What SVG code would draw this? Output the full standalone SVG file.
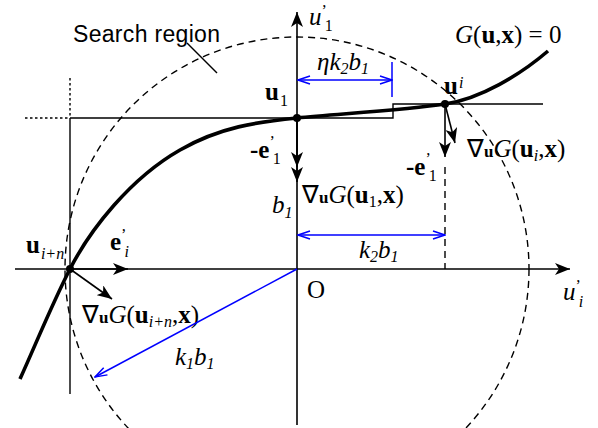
<svg xmlns="http://www.w3.org/2000/svg" width="598" height="428" viewBox="0 0 598 428">
<style>
.ax{stroke:#000;stroke-width:1.6;fill:none}
.thin{stroke:#000;stroke-width:1.4;fill:none}
.dot{stroke:#000;stroke-width:1.4;fill:none;stroke-dasharray:2.5 2.5}
.dash{stroke:#000;stroke-width:1.4;fill:none;stroke-dasharray:7 5}
.blue{stroke:#0000ff;stroke-width:1.5;fill:none}
.curve{stroke:#000;stroke-width:3.6;fill:none}
.m{font-family:"Liberation Serif","Times New Roman",serif;font-size:25px;fill:#000}
.i{font-style:italic}
.b{font-weight:bold}
.s{font-size:16px}
.n{font-style:normal;font-weight:normal}
.ni{font-style:italic;font-weight:normal}
.sans{font-family:"Liberation Sans",Arial,sans-serif;font-size:23px;fill:#000}
</style>
<defs>
<marker id="ah" markerWidth="16" markerHeight="12" refX="15" refY="6" orient="auto" markerUnits="userSpaceOnUse"><path d="M0,0 L15,6 L0,12 L4,6 z" fill="#000"/></marker>
<marker id="bh" markerWidth="14" markerHeight="10" refX="13" refY="5" orient="auto-start-reverse" markerUnits="userSpaceOnUse"><path d="M1,1 L13,5 L1,9" fill="none" stroke="#0000ff" stroke-width="1.5"/></marker>
</defs>
<g id="search-region">
<circle cx="297" cy="269" r="232" class="dash"/>
<line x1="187" y1="43" x2="217" y2="73" class="thin"/>
<text x="73" y="42" class="sans" textLength="147">Search region</text>
</g>
<g id="guides">
<line x1="25" y1="118" x2="70" y2="118" class="dot"/>
<line x1="70" y1="78" x2="70" y2="118" class="dot"/>
<line x1="70" y1="118" x2="70" y2="394" class="thin"/>
<path d="M70,118 H393 V104 H543" class="thin"/>
<line x1="445" y1="167" x2="445" y2="269" class="dash"/>
</g>
<g id="axes">
<line x1="297" y1="425" x2="297" y2="12" class="ax" marker-end="url(#ah)"/>
<line x1="15" y1="269" x2="570" y2="269" class="ax" marker-end="url(#ah)"/>
<text x="309" y="25" class="m i" font-size="24">u<tspan class="s n" dy="-9">’</tspan><tspan class="s n" dx="-2" dy="15">1</tspan></text>
<text x="563" y="300" class="m i" font-size="24">u<tspan class="s n" dy="-9">’</tspan><tspan class="s" dx="-2" dy="16">i</tspan></text>
<text x="307" y="298" class="m" font-size="24">O</text>
</g>
<g id="curve-G">
<path d="M20,379 C35,346 52,304 70,269 C90,230 130,178.5 180,150 C220,127 257,122 297,118 C337,114 405,110 445,104 C480,99 520,75 548,51" class="curve"/>
<text x="455" y="43" class="m"><tspan class="i">G</tspan>(<tspan class="b">u</tspan>,<tspan class="b">x</tspan>) = 0</text>
</g>
<g id="node-u1">
<circle cx="297" cy="118" r="4" fill="#000"/>
<text x="265" y="100" class="m b" font-size="24">u<tspan class="s n" dx="1" dy="6">1</tspan></text>
<line x1="297" y1="118" x2="297" y2="182" class="ax" marker-end="url(#ah)"/>
<line x1="297" y1="118" x2="297" y2="167" class="ax" marker-end="url(#ah)"/>
<text x="250" y="158" class="m b">-e<tspan class="s n" dy="-11">’</tspan><tspan class="s n" dx="-2" dy="17">1</tspan></text>
<text x="302" y="203" class="m">∇<tspan class="b" font-size="17">u</tspan><tspan class="i">G</tspan>(<tspan class="b">u</tspan><tspan class="s" dy="4">1</tspan><tspan dy="-4">,</tspan><tspan class="b">x</tspan>)</text>
<text x="272" y="213" class="m i" font-size="22">b<tspan class="s" dy="5">1</tspan></text>
</g>
<g id="node-ui">
<circle cx="445" cy="104" r="4" fill="#000"/>
<text x="444" y="94" class="m b" font-size="24">u<tspan class="s ni" dx="1" dy="-6">i</tspan></text>
<line x1="445" y1="104" x2="445" y2="157" class="ax" marker-end="url(#ah)"/>
<line x1="445" y1="104" x2="455" y2="143" class="ax" marker-end="url(#ah)"/>
<text x="406" y="175" class="m b">-e<tspan class="s n" dy="-11">’</tspan><tspan class="s n" dx="-2" dy="17">1</tspan></text>
<text x="467" y="157" class="m">∇<tspan class="b" font-size="17">u</tspan><tspan class="i">G</tspan>(<tspan class="b">u</tspan><tspan class="s i" dy="4">i</tspan><tspan dy="-4">,</tspan><tspan class="b">x</tspan>)</text>
</g>
<g id="node-uin">
<circle cx="70" cy="269" r="4" fill="#000"/>
<text x="26" y="253" class="m b" font-size="24">u<tspan class="s ni" dx="1" dy="6">i+n</tspan></text>
<line x1="70" y1="269" x2="128" y2="269" class="ax" marker-end="url(#ah)"/>
<line x1="70" y1="269" x2="112" y2="299" class="ax" marker-end="url(#ah)"/>
<text x="110" y="250" class="m b">e<tspan class="s n" dy="-10">’</tspan><tspan class="s ni" dx="-2" dy="17">i</tspan></text>
<text x="82" y="323" class="m">∇<tspan class="b" font-size="17">u</tspan><tspan class="i">G</tspan>(<tspan class="b">u</tspan><tspan class="s i" dy="4">i+n</tspan><tspan dy="-4">,</tspan><tspan class="b">x</tspan>)</text>
</g>
<g id="dimensions">
<line x1="298" y1="80" x2="392" y2="80" class="blue" marker-start="url(#bh)" marker-end="url(#bh)"/>
<line x1="392" y1="62" x2="392" y2="97" class="blue"/>
<text x="317" y="70" class="m i" font-size="23">η<tspan>k</tspan><tspan class="s" dy="4">2</tspan><tspan dy="-4">b</tspan><tspan class="s" dy="4">1</tspan></text>
<line x1="298" y1="235" x2="445" y2="235" class="blue" marker-start="url(#bh)" marker-end="url(#bh)"/>
<text x="359" y="258" class="m i" font-size="23">k<tspan class="s" dy="4">2</tspan><tspan dy="-4">b</tspan><tspan class="s" dy="4">1</tspan></text>
<line x1="297" y1="269" x2="95" y2="377" class="blue" marker-end="url(#bh)"/>
<text x="175" y="365" class="m i" font-size="23">k<tspan class="s" dy="4">1</tspan><tspan dy="-4">b</tspan><tspan class="s" dy="4">1</tspan></text>
</g>
</svg>
